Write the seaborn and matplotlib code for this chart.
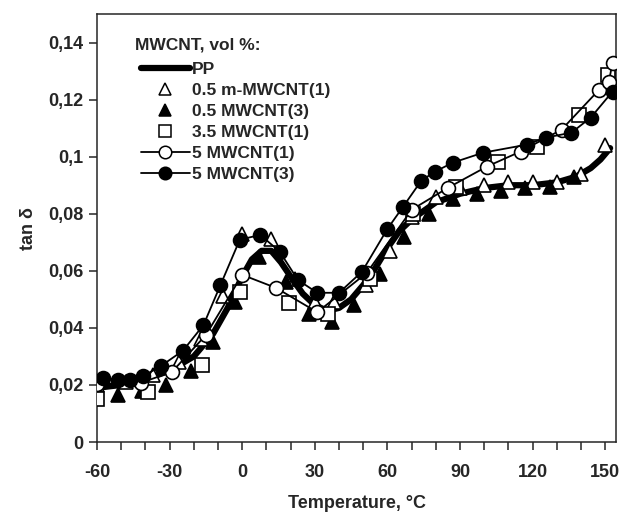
import numpy as np
import matplotlib
matplotlib.use("Agg")
import matplotlib.pyplot as plt
import seaborn as sns
from matplotlib.lines import Line2D
from matplotlib.ticker import MultipleLocator, FixedLocator, FixedFormatter

# --- dane (tan delta vs temperatura) ---
pp_t = [-60, -50, -40, -30, -20, -12, -6, 0, 4, 8, 12, 16, 20, 25, 30, 35, 40, 45, 50, 55, 60,
        65, 70, 80, 90, 100, 110, 120, 130, 138, 144, 148, 152]
pp_v = [0.019, 0.020, 0.022, 0.025, 0.030, 0.038, 0.047, 0.058, 0.064, 0.067, 0.067, 0.063, 0.058,
        0.052, 0.048, 0.046, 0.047, 0.050, 0.055, 0.061, 0.068, 0.074, 0.078, 0.084, 0.087, 0.089,
        0.090, 0.090, 0.091, 0.093, 0.096, 0.099, 0.103]

tri_open_t = [-60, -48, -37, -26, -17, -8, 0, 12, 22, 30, 38, 51, 61, 70, 80, 90, 100, 110, 120, 130, 140, 150]
tri_open_v = [0.020, 0.021, 0.0235, 0.028, 0.036, 0.051, 0.073, 0.071, 0.057, 0.049, 0.049, 0.055,
              0.067, 0.079, 0.086, 0.089, 0.090, 0.091, 0.091, 0.091, 0.094, 0.104]

tri_fill_t = [-51.5, -41.5, -31.5, -21, -12, -3, 7, 18, 27.5, 37, 46, 57, 67, 77, 87, 97, 107, 117, 127, 137]
tri_fill_v = [0.0165, 0.018, 0.020, 0.025, 0.035, 0.049, 0.065, 0.056, 0.045, 0.042, 0.048, 0.059,
              0.072, 0.080, 0.085, 0.087, 0.088, 0.089, 0.0895, 0.093]

sq_t = [-60, -39, -16.5, -1, 19.5, 35.5, 53, 70.5, 88.5, 105.5, 122, 139, 151]
sq_v = [0.015, 0.0177, 0.027, 0.0526, 0.0488, 0.0450, 0.057, 0.080, 0.0895, 0.098, 0.1035, 0.1147, 0.1288]

circ_open_t = [-60, -42, -29, -15, 0, 14, 31, 51.5, 70, 85, 101, 115, 132, 147.5, 151.5, 153]
circ_open_v = [0.0204, 0.0207, 0.0246, 0.0375, 0.0586, 0.054, 0.0455, 0.0593, 0.0814, 0.0891, 0.0965,
               0.1018, 0.1095, 0.1235, 0.1263, 0.133]

circ_fill_t = [-57.5, -51.5, -46.5, -41, -33.5, -24.5, -16, -9, -1, 7.5, 15.5, 23, 31, 40, 49.5, 60,
               66.5, 74, 79.5, 87, 99.5, 117.5, 125.5, 136, 144, 153]
circ_fill_v = [0.0225, 0.0218, 0.0218, 0.023, 0.0267, 0.032, 0.041, 0.055, 0.0709, 0.0726, 0.0667,
               0.0568, 0.0523, 0.0523, 0.0597, 0.0747, 0.0825, 0.0916, 0.0947, 0.0979, 0.1014, 0.1042,
               0.1067, 0.1084, 0.1137, 0.1228]

y_ticks = [0, 0.02, 0.04, 0.06, 0.08, 0.1, 0.12, 0.14]
y_labels = ['0', '0,02', '0,04', '0,06', '0,08', '0,1', '0,12', '0,14']
x_ticks = [-60, -30, 0, 30, 60, 90, 120, 150]

sns.set_style("ticks")
plt.rcParams['font.family'] = ['Liberation Sans', 'DejaVu Sans']
plt.rcParams['font.weight'] = 'bold'
plt.rcParams['axes.unicode_minus'] = False

fig = plt.figure(figsize=(6.27, 5.15), dpi=100)
ax = fig.add_axes([0.1547, 0.1417, 0.828, 0.8311])

ms = 10
mew = 1.2

# PP - gruba linia
sns.lineplot(x=pp_t, y=pp_v, color='black', linewidth=4.5, sort=False, ax=ax, zorder=2)

# same znaczniki
ax.plot(tri_open_t, tri_open_v, linestyle='none', marker='^', ms=ms, mfc='white', mec='black', mew=mew, zorder=3)
ax.plot(tri_fill_t, tri_fill_v, linestyle='none', marker='^', ms=ms, mfc='black', mec='black', mew=mew, zorder=3)
ax.plot(sq_t, sq_v, linestyle='none', marker='s', ms=ms - 0.5, mfc='white', mec='black', mew=mew, zorder=3)

# kółka z linią
sns.lineplot(x=circ_open_t, y=circ_open_v, color='black', linewidth=1.3, sort=False, ax=ax,
             marker='o', markersize=ms, markerfacecolor='white', markeredgecolor='black',
             markeredgewidth=mew, zorder=4)
sns.lineplot(x=circ_fill_t, y=circ_fill_v, color='black', linewidth=1.3, sort=False, ax=ax,
             marker='o', markersize=ms, markerfacecolor='black', markeredgecolor='black',
             markeredgewidth=mew, zorder=4)

ax.set_xlim(-60, 154.5)
ax.set_ylim(0, 0.15)
ax.xaxis.set_major_locator(FixedLocator(x_ticks))
ax.xaxis.set_minor_locator(MultipleLocator(10))
ax.yaxis.set_major_locator(FixedLocator(y_ticks))
ax.yaxis.set_major_formatter(FixedFormatter(y_labels))
ax.tick_params(axis='both', which='both', direction='out', length=6, width=1.1, labelsize=13)
ax.tick_params(axis='x', pad=10)
ax.tick_params(axis='y', pad=4)
for s in ax.spines.values():
    s.set_visible(True)
    s.set_linewidth(1.1)

ax.set_xlabel('Temperature, °C', fontsize=13, fontweight='bold', labelpad=10)
ax.set_ylabel('tan δ', fontsize=13, fontweight='bold', labelpad=8)

# legenda: tytuł osobno, wpisy pod spodem
ax.text(0.073, 0.9276, 'MWCNT, vol %:', transform=ax.transAxes, ha='left', va='center',
        fontsize=12.5, fontweight='bold')

handles = [
    Line2D([], [], color='black', lw=4.5),
    Line2D([], [], ls='none', marker='^', ms=9, mfc='white', mec='black', mew=1.1),
    Line2D([], [], ls='none', marker='^', ms=9, mfc='black', mec='black', mew=1.1),
    Line2D([], [], ls='none', marker='s', ms=8.5, mfc='white', mec='black', mew=1.1),
    Line2D([], [], color='black', lw=1.3, marker='o', ms=9, mfc='white', mec='black', mew=1.1),
    Line2D([], [], color='black', lw=1.3, marker='o', ms=9, mfc='black', mec='black', mew=1.1),
]
labels = ['PP', '0.5 m-MWCNT(1)', '0.5 MWCNT(3)', '3.5 MWCNT(1)', '5 MWCNT(1)', '5 MWCNT(3)']
leg = ax.legend(handles, labels, loc='upper left', bbox_to_anchor=(0.0713, 0.904),
                frameon=False, fontsize=12.5, borderaxespad=0,
                handlelength=2.8, handletextpad=0.15, labelspacing=0.34)

fig.savefig('out.png', dpi=100)
